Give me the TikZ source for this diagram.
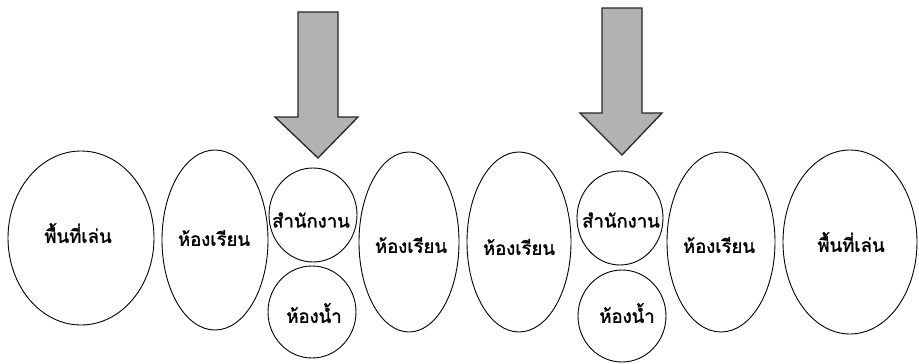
\documentclass[tikz,border=0pt]{standalone}
\usepackage{fontspec}
\newfontfamily\thaifont[Script=Thai,FakeBold=1.6]{Loma}
\usetikzlibrary{shapes.geometric}

\tikzset{
    room/.style={draw=black, line width=0.9pt, ellipse, inner sep=0pt},
    roomtext/.style={font=\thaifont\fontsize{18.5}{22}\selectfont, inner sep=0pt},
    bigarrow/.style={draw=black!85, line width=1.3pt, fill=black!30, line join=miter}
}

\begin{document}
\begin{tikzpicture}[x=1pt, y=-1pt]
                \useasboundingbox (0,0) rectangle (919,364);
                % rooms along the row
                \node[room, minimum width=146, minimum height=174] (play1) at (81,238) {};
                \node[room, minimum width=106, minimum height=180] (class1) at (215,240) {};
                \node[room, minimum width=88, minimum height=94] (office1) at (313,215) {};
                \node[room, minimum width=88, minimum height=92] (wc1) at (312,312) {};
                \node[room, minimum width=100, minimum height=180] (class2) at (409,242) {};
                \node[room, minimum width=104, minimum height=180] (class3) at (519,242) {};
                \node[room, minimum width=86, minimum height=94] (office2) at (620,218) {};
                \node[room, minimum width=88, minimum height=92] (wc2) at (622,316) {};
                \node[room, minimum width=108, minimum height=180] (class4) at (721,242) {};
                \node[room, minimum width=134, minimum height=184] (play2) at (850,242) {};
                % labels
                \node[roomtext] (tplay1) at (78,233) {พื้นที่เล่น};
                \node[roomtext] (tclass1) at (214,238) {ห้องเรียน};
                \node[roomtext] (toffice1) at (311,220) {สำนักงาน};
                \node[roomtext] (twc1) at (314,313) {ห้องน้ำ};
                \node[roomtext] (tclass2) at (411,245) {ห้องเรียน};
                \node[roomtext] (tclass3) at (519,247) {ห้องเรียน};
                \node[roomtext] (toffice2) at (621,220) {สำนักงาน};
                \node[roomtext] (twc2) at (627,313) {ห้องน้ำ};
                \node[roomtext] (tclass4) at (719,245) {ห้องเรียน};
                \node[roomtext] (tplay2) at (851,242) {พื้นที่เล่น};
                % entrances
                \draw[bigarrow] (298,12) -- (338,12) -- (338,117) -- (358,117)
                    -- (318,158) -- (275,117) -- (298,117) -- cycle;
                \draw[bigarrow] (602,8) -- (642,8) -- (642,113) -- (662,113)
                    -- (622,155) -- (580,113) -- (602,113) -- cycle;
            \end{tikzpicture}
\end{document}
